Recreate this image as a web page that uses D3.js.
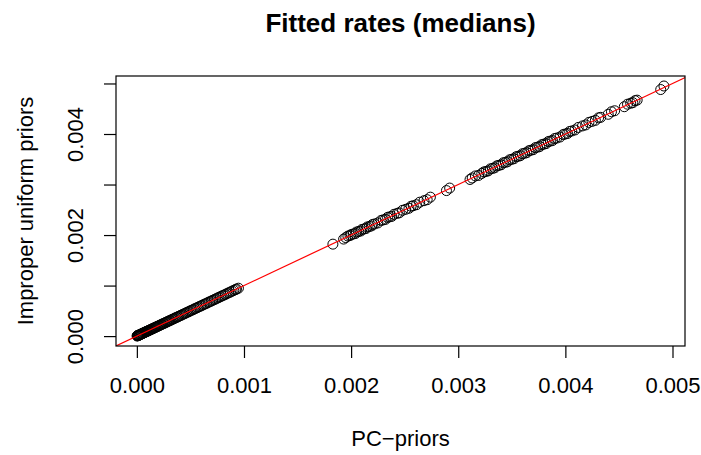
<!DOCTYPE html>
<html>
<head>
<meta charset="utf-8">
<script src="https://cdn.jsdelivr.net/npm/d3@7"></script>
<style>
  body { margin: 0; background: #fff; }
  text { font-family: "Liberation Sans", Arial, sans-serif; fill: #000; }
</style>
</head>
<body>
<script>
// fitted rates, PC-priors (x) vs improper uniform priors (y)
const lowPC = [0.000002, 0.000005, 0.000008, 0.00001, 0.000013, 0.000017, 0.00002, 0.000024, 0.000029, 0.000033,
  0.000038, 0.000042, 0.000047, 0.000052, 0.000058, 0.000063, 0.000069, 0.000074, 0.00008, 0.000086,
  0.000091, 0.000097, 0.000103, 0.00011, 0.000116, 0.000123, 0.00013, 0.000137, 0.000144, 0.000151,
  0.000158, 0.000166, 0.000173, 0.000181, 0.000189, 0.000197, 0.000205, 0.000214, 0.000222, 0.000231,
  0.00024, 0.000249, 0.000258, 0.000267, 0.000277, 0.000286, 0.000296, 0.000306, 0.000316, 0.000327,
  0.000337, 0.000348, 0.000359, 0.00037, 0.000381, 0.000392, 0.000404, 0.000415, 0.000427, 0.000439,
  0.000451, 0.000463, 0.000476, 0.000488, 0.000501, 0.000514, 0.000527, 0.00054, 0.000553, 0.000567,
  0.00058, 0.000594, 0.000608, 0.000622, 0.000636, 0.00065, 0.000665, 0.000679, 0.000694, 0.000708,
  0.000722, 0.000737, 0.000751, 0.000766, 0.00078, 0.000795, 0.00081, 0.000826, 0.000841, 0.000858,
  0.000873, 0.000889, 0.000905, 0.00092, 0.00093, 0.000948]
const lowUnif = [0.000002, 0.000006, 0.000008, 0.000011, 0.000013, 0.000016, 0.000021, 0.000024, 0.000028, 0.000034,
  0.000038, 0.000043, 0.000047, 0.000051, 0.000058, 0.000064, 0.000068, 0.000074, 0.000081, 0.000085,
  0.000092, 0.000097, 0.000102, 0.000111, 0.000116, 0.000122, 0.000131, 0.000137, 0.000143, 0.000152,
  0.000158, 0.000165, 0.000174, 0.00018, 0.00019, 0.000197, 0.000204, 0.000215, 0.000222, 0.00023,
  0.000241, 0.000249, 0.000257, 0.000268, 0.000277, 0.000285, 0.000297, 0.000306, 0.000315, 0.000328,
  0.000337, 0.000347, 0.00036, 0.00037, 0.00038, 0.000393, 0.000404, 0.000414, 0.000428, 0.000439,
  0.00045, 0.000464, 0.000476, 0.000487, 0.000502, 0.000514, 0.000526, 0.000541, 0.000553, 0.000566,
  0.000581, 0.000594, 0.000607, 0.000623, 0.000636, 0.000649, 0.000666, 0.000679, 0.000693, 0.000709,
  0.000722, 0.000736, 0.000752, 0.000766, 0.000779, 0.000796, 0.00081, 0.000825, 0.000842, 0.000858,
  0.000872, 0.00089, 0.000905, 0.000919, 0.000931, 0.000948]

const midPC = [0.00183, 0.00193, 0.00195, 0.00197, 0.00199, 0.002, 0.00202, 0.00204, 0.00205, 0.00207,
  0.00209, 0.0021, 0.00212, 0.00214, 0.00215, 0.00217, 0.00219, 0.0022, 0.00222, 0.00225,
  0.00228, 0.0023, 0.00232, 0.00234, 0.00236, 0.00238, 0.0024, 0.00243, 0.00245, 0.00248,
  0.00251, 0.00254, 0.00256, 0.00258, 0.00261, 0.00264, 0.00268, 0.00271, 0.00274, 0.00289, 0.00292]
const midUnif = [0.00182, 0.00192, 0.00195, 0.00198, 0.00199, 0.00201, 0.00202, 0.00203, 0.00206, 0.00207,
  0.00208, 0.00211, 0.00212, 0.00213, 0.00216, 0.00217, 0.00218, 0.00221, 0.00222, 0.00224,
  0.00229, 0.0023, 0.00231, 0.00235, 0.00236, 0.00237, 0.00241, 0.00243, 0.00244, 0.00249,
  0.00251, 0.00253, 0.00257, 0.00258, 0.0026, 0.00265, 0.00268, 0.0027, 0.00275, 0.00288, 0.00293]

const highPC = [0.00311, 0.00313, 0.00316, 0.00319, 0.00322, 0.00324, 0.00326, 0.00328, 0.0033, 0.00332,
  0.00334, 0.00336, 0.00338, 0.0034, 0.00342, 0.00344, 0.00346, 0.00348, 0.0035, 0.00352,
  0.00354, 0.00356, 0.00358, 0.0036, 0.00362, 0.00364, 0.00366, 0.00368, 0.0037, 0.00372,
  0.00374, 0.00376, 0.00378, 0.0038, 0.00382, 0.00384, 0.00386, 0.00388, 0.0039, 0.00392,
  0.00395, 0.00398, 0.004, 0.00402, 0.00404, 0.00406, 0.00409, 0.00412, 0.00416, 0.00419,
  0.00422, 0.00425, 0.00428, 0.00431, 0.00433, 0.0044, 0.00443, 0.00446, 0.00455, 0.00458,
  0.00461, 0.00463, 0.00465, 0.00467, 0.00489, 0.00492]
const highUnif = [0.0031, 0.00313, 0.00317, 0.00318, 0.00322, 0.00325, 0.00326, 0.00327, 0.00331, 0.00332,
  0.00333, 0.00337, 0.00338, 0.00339, 0.00343, 0.00344, 0.00345, 0.00349, 0.0035, 0.00351,
  0.00355, 0.00356, 0.00357, 0.00361, 0.00362, 0.00363, 0.00367, 0.00368, 0.00369, 0.00373,
  0.00374, 0.00375, 0.00379, 0.0038, 0.00381, 0.00385, 0.00386, 0.00387, 0.00391, 0.00392,
  0.00394, 0.00399, 0.004, 0.00401, 0.00405, 0.00406, 0.00408, 0.00413, 0.00416, 0.00418,
  0.00423, 0.00425, 0.00427, 0.00432, 0.00433, 0.00439, 0.00444, 0.00446, 0.00454, 0.00459,
  0.00461, 0.00462, 0.00466, 0.00467, 0.00488, 0.00495]

const xTicks = [0, 0.001, 0.002, 0.003, 0.004, 0.005]
const yTicks = [0, 0.001, 0.002, 0.003, 0.004, 0.005]
const yTickLabels = ["0.000", "", "0.002", "", "0.004", ""]

const pcAll = lowPC.concat(midPC, highPC)
const unifAll = lowUnif.concat(midUnif, highUnif)
const points = pcAll.map((d, i) => [d, unifAll[i]])

const w = 701
const h = 455
const mLeft = 116, mRight = 685, mTop = 76, mBottom = 346

// R style 4% padding on the data range
let pad = (ext) => {
  const r = ext[1] - ext[0]
  return [ext[0] - 0.04 * r, ext[1] + 0.04 * r]
}

const xScale = d3.scaleLinear()
  .domain(pad(d3.extent(pcAll)))
  .range([mLeft, mRight])

const yScale = d3.scaleLinear()
  .domain(pad(d3.extent(unifAll)))
  .range([mBottom, mTop])

const svg = d3.select("body")
  .append("svg")
  .attr("width", w)
  .attr("height", h)

svg.append("defs").append("clipPath").attr("id", "plotclip")
  .append("rect")
  .attr("x", mLeft).attr("y", mTop)
  .attr("width", mRight - mLeft).attr("height", mBottom - mTop)

// points
svg.append("g")
  .selectAll("circle")
  .data(points)
  .enter()
  .append("circle")
  .attr("cx", d => xScale(d[0]))
  .attr("cy", d => yScale(d[1]))
  .attr("r", 5)
  .attr("fill", "none")
  .attr("stroke", "#000")
  .attr("stroke-width", 1)

// abline(0, 1)
const lo = Math.min(xScale.domain()[0], yScale.domain()[0])
const hi = Math.max(xScale.domain()[1], yScale.domain()[1])
svg.append("line")
  .attr("clip-path", "url(#plotclip)")
  .attr("x1", xScale(lo)).attr("y1", yScale(lo))
  .attr("x2", xScale(hi)).attr("y2", yScale(hi))
  .attr("stroke", "#ff0000")
  .attr("stroke-width", 1.2)

// box
svg.append("rect")
  .attr("x", mLeft).attr("y", mTop)
  .attr("width", mRight - mLeft).attr("height", mBottom - mTop)
  .attr("fill", "none")
  .attr("stroke", "#000")
  .attr("stroke-width", 1.2)

const xAxis = svg.append("g")
  .attr("transform", `translate(0,${mBottom})`)
  .call(d3.axisBottom(xScale).tickValues(xTicks).tickFormat(d3.format(".3f")).tickSize(12).tickPadding(0))
xAxis.select(".domain").remove()
xAxis.selectAll("line").attr("stroke", "#000").attr("stroke-width", 1.2)
xAxis.selectAll("text")
  .attr("dy", null)
  .attr("y", 47)
  .style("font-size", "22px")
  .style("font-family", '"Liberation Sans", Arial, sans-serif')

const yAxis = svg.append("g")
  .attr("transform", `translate(${mLeft},0)`)
  .call(d3.axisLeft(yScale).tickValues(yTicks).tickFormat((d, i) => yTickLabels[i]).tickSize(12).tickPadding(0))
yAxis.select(".domain").remove()
yAxis.selectAll("line").attr("stroke", "#000").attr("stroke-width", 1.2)
yAxis.selectAll("text")
  .attr("x", null).attr("dy", null)
  .attr("text-anchor", "middle")
  .attr("transform", "translate(-33,0) rotate(-90)")
  .style("font-size", "22px")
  .style("font-family", '"Liberation Sans", Arial, sans-serif')

svg.append("text")
  .attr("x", (mLeft + mRight) / 2)
  .attr("y", 32)
  .attr("text-anchor", "middle")
  .style("font-size", "26px")
  .style("font-weight", "bold")
  .text("Fitted rates (medians)")

svg.append("text")
  .attr("x", (mLeft + mRight) / 2)
  .attr("y", 446)
  .attr("text-anchor", "middle")
  .style("font-size", "22px")
  .text("PC\u2212priors")

svg.append("text")
  .attr("transform", `translate(33,${(mTop + mBottom) / 2}) rotate(-90)`)
  .attr("text-anchor", "middle")
  .style("font-size", "22px")
  .text("Improper uniform priors")
</script>
</body>
</html>
